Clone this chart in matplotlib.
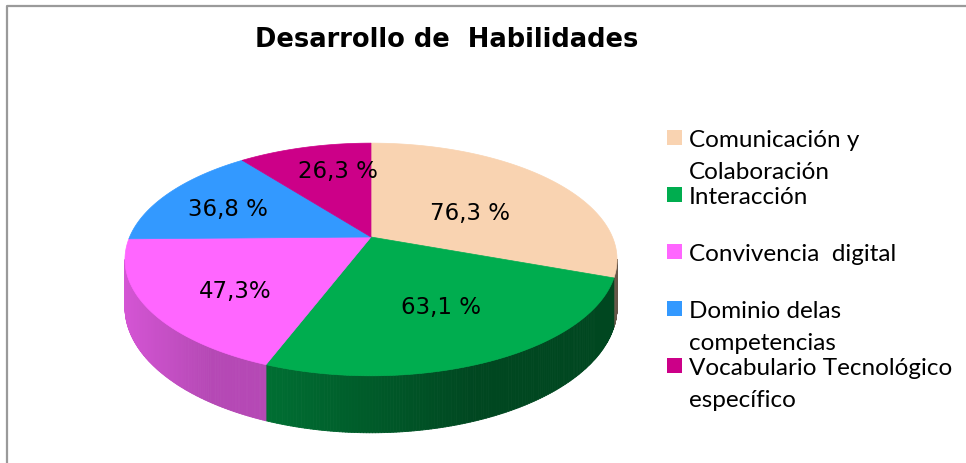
import numpy as np
import matplotlib.pyplot as plt
from matplotlib.patches import Polygon, Rectangle
from matplotlib.collections import PolyCollection
from matplotlib.lines import Line2D
import matplotlib.colors as mcolors

# data
title = "Desarrollo de  Habilidades"
categories = ["Comunicación y\nColaboración", "Interacción", "Convivencia  digital",
              "Dominio delas\ncompetencias", "Vocabulario Tecnológico\nespecífico"]
values = [76.3, 63.1, 47.3, 36.8, 26.3]
value_labels = ["76,3 %", "63,1 %", "47,3%", "36,8 %", "26,3 %"]
colors = ["#F9D3B1", "#00AD4F", "#FF66FF", "#3399FF", "#CC0088"]

# layout in pixel units (figure is 966 x 464)
W, H = 966, 464
CX, CY = 371, 238          # pie apex
A, B, K = 241.4, 112, 0.193  # half width, half depth, perspective factor
DEPTH = 46
side_shade = [(0.45, 0.40), (0.64, 0.41), (0.83, 0.71), (0.75, 0.65), (0.75, 0.65)]
label_xy = [(470, 214), (441, 308), (235, 292), (228, 210), (338, 172)]
legend_x, legend_y0, legend_step, line_gap = 667, 147, 57, 32


def project(theta, drop=0.0):
    t = np.radians(theta)
    X, Y = np.cos(t), -np.sin(t)
    den = 1 - K * Y
    return CX + A * X / den, CY + (B * Y + drop) / den


fig = plt.figure(figsize=(W / 100, H / 100), dpi=100)
ax = fig.add_axes([0, 0, 1, 1])
ax.set_xlim(0, W)
ax.set_ylim(H, 0)
ax.axis("off")

# frame (only top and left edge visible in the crop)
ax.add_line(Line2D([7, 7, W], [H, 7, 7], color="#9a9a9a", lw=1.6))

# the wall is only seen between the two silhouette points
edge = np.degrees(np.arcsin(K))

total = sum(values)
start = 90.0
for val, col, (f0, f1) in zip(values, colors, side_shade):
    end = start - 360 * val / total
    rgb = np.array(mcolors.to_rgb(col))

    # side wall on the front half
    hi, lo = min(start, -edge), max(end, -180 + edge)
    if hi > lo:
        th = np.linspace(hi, lo, 160)
        tx, ty = project(th)
        bx, by = project(th, DEPTH)
        quads, fcs = [], []
        xmin, xmax = tx.min(), tx.max()
        for i in range(len(th) - 1):
            quads.append([(tx[i], ty[i]), (tx[i + 1], ty[i + 1]),
                          (bx[i + 1], by[i + 1]), (bx[i], by[i])])
            u = ((tx[i] + tx[i + 1]) / 2 - xmin) / max(xmax - xmin, 1)
            f = f0 + (f1 - f0) * min(1.0, u / 0.6)
            fcs.append(np.clip(rgb * f, 0, 1))
        ax.add_collection(PolyCollection(quads, facecolors=fcs, edgecolors=fcs,
                                         linewidths=0.6, zorder=1))

    # top face
    th = np.linspace(start, end, 200)
    tx, ty = project(th)
    pts = [(CX, CY)] + list(zip(tx, ty))
    ax.add_patch(Polygon(pts, closed=True, facecolor=col, edgecolor=col,
                         lw=0.5, zorder=2))
    start = end

for txt, (x, y) in zip(value_labels, label_xy):
    ax.text(x, y, txt, ha="center", va="center", fontsize=16.5,
            family="DejaVu Sans", color="black", zorder=3)

ax.text(447, 47, title, ha="center", va="baseline", fontsize=18.5,
        fontweight="bold", family="DejaVu Sans")

# legend
for i, (name, col) in enumerate(zip(categories, colors)):
    yb = legend_y0 + i * legend_step
    ax.add_patch(Rectangle((legend_x, yb - 16), 15, 15, facecolor=col,
                           edgecolor="none", zorder=3))
    for j, line in enumerate(name.split("\n")):
        ax.text(legend_x + 22, yb + j * line_gap, line, ha="left",
                va="baseline", fontsize=17.5, family="Lato", color="black")

fig.savefig("out.png", dpi=100)
